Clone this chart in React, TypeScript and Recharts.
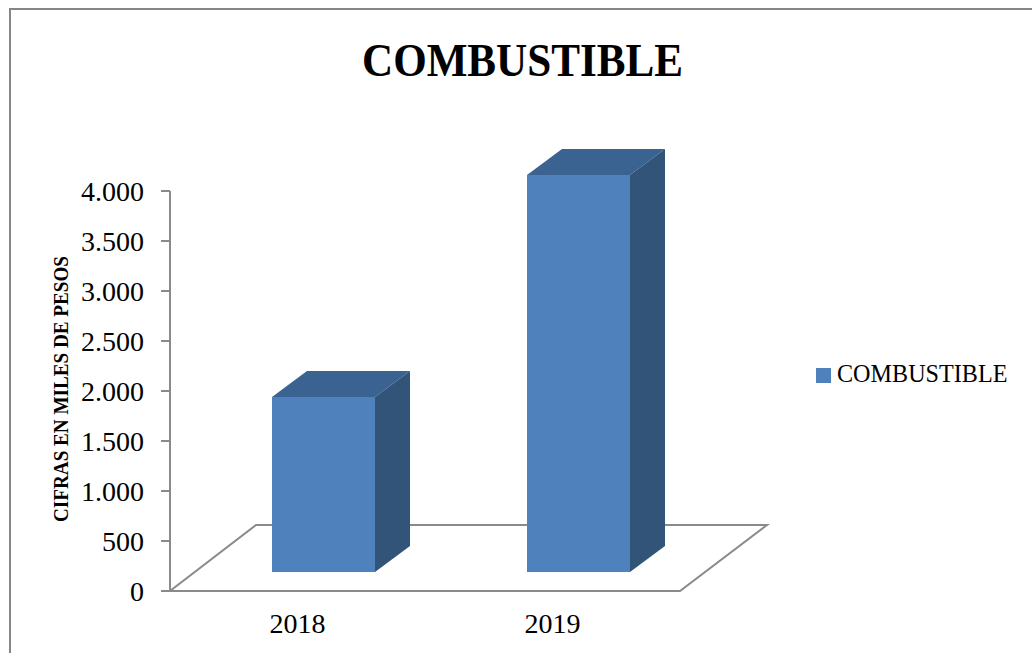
import { BarChart, Bar, XAxis, YAxis, Legend, ReferenceArea } from 'recharts';

const years = ["2018", "2019"];
const combustible = [1750, 3970];
const yTicks = [0, 500, 1000, 1500, 2000, 2500, 3000, 3500, 4000];

const data = years.map((year, i) => ({ year, combustible: combustible[i] }));

const font = "'Liberation Serif', serif";
const axisGray = "#8a8a8a";

// how far the 3D box sits from the axis plane, and how deep it is
const SHIFT_X = 26;
const SHIFT_Y = 19;
const DEPTH_X = 35;
const DEPTH_Y = 26;

function Box3D(props: any) {
  const { x, y, width, height } = props;
  const left = x + SHIFT_X;
  const right = left + width;
  const top = y - SHIFT_Y;
  const bottom = top + height;
  return (
    <g>
      <polygon
        points={`${left},${top} ${left + DEPTH_X},${top - DEPTH_Y} ${right + DEPTH_X},${top - DEPTH_Y} ${right},${top}`}
        fill="#3B6391"
      />
      <polygon
        points={`${right},${top} ${right + DEPTH_X},${top - DEPTH_Y} ${right + DEPTH_X},${bottom - DEPTH_Y} ${right},${bottom}`}
        fill="#325479"
      />
      <rect x={left} y={top} width={width} height={height} fill="#4F81BD" />
    </g>
  );
}

function Floor(props: any) {
  const { x, y, width, height } = props;
  return (
    <polygon
      points={`${x},${y + height} ${x + width},${y + height} ${x + width + 87},${y} ${x + 86},${y}`}
      fill="#fff"
      stroke={axisGray}
      strokeWidth={2}
    />
  );
}

export default function App() {
  return (
    <div style={{ position: "absolute", left: 0, top: 0, width: 1032, height: 653, background: "#fff", overflow: "hidden" }}>
      <div style={{ position: "absolute", left: 9, top: 8, width: 1040, height: 660, borderLeft: "2px solid #868686", borderTop: "2px solid #868686" }} />
      <BarChart
        width={1032}
        height={653}
        data={data}
        margin={{ top: 191, right: 142, bottom: 32, left: 50 }}
        barSize={103}
        style={{ fontFamily: font }}
      >
        <text x={522.5} y={76} textAnchor="middle" fontSize={46} fontWeight="bold" fill="#000" textLength={321} lengthAdjust="spacingAndGlyphs">
          COMBUSTIBLE
        </text>
        <text
          x={68}
          y={389}
          transform="rotate(-90 68 389)"
          textAnchor="middle"
          fontSize={21}
          fontWeight="bold"
          fill="#000"
          textLength={266}
          lengthAdjust="spacingAndGlyphs"
        >
          CIFRAS EN MILES DE PESOS
        </text>
        <XAxis
          dataKey="year"
          axisLine={false}
          tickLine={false}
          tickMargin={16}
          tick={{ fontSize: 28, fill: "#000" }}
        />
        <YAxis
          width={120}
          domain={[0, 4000]}
          ticks={yTicks}
          interval={0}
          tickSize={9}
          tickMargin={17}
          tickFormatter={(v: number) => v.toLocaleString("es-CO").replace(",", ".")}
          axisLine={{ stroke: axisGray, strokeWidth: 2 }}
          tickLine={{ stroke: axisGray, strokeWidth: 2 }}
          tick={{ fontSize: 28, fill: "#000" }}
        />
        <ReferenceArea y1={0} y2={660} shape={Floor} ifOverflow="visible" />
        <Legend
          layout="vertical"
          align="right"
          verticalAlign="middle"
          iconType="square"
          iconSize={15}
          wrapperStyle={{ left: 816, top: 359, width: 210, right: "auto", fontSize: 25 }}
          formatter={(value: string) => (
            <span style={{ color: "#000", display: "inline-block", position: "relative", left: 2, top: 1, transform: "scaleX(0.966)", transformOrigin: "left" }}>
              {value}
            </span>
          )}
        />
        <Bar dataKey="combustible" name="COMBUSTIBLE" fill="#4F81BD" shape={Box3D} isAnimationActive={false} />
      </BarChart>
    </div>
  );
}
